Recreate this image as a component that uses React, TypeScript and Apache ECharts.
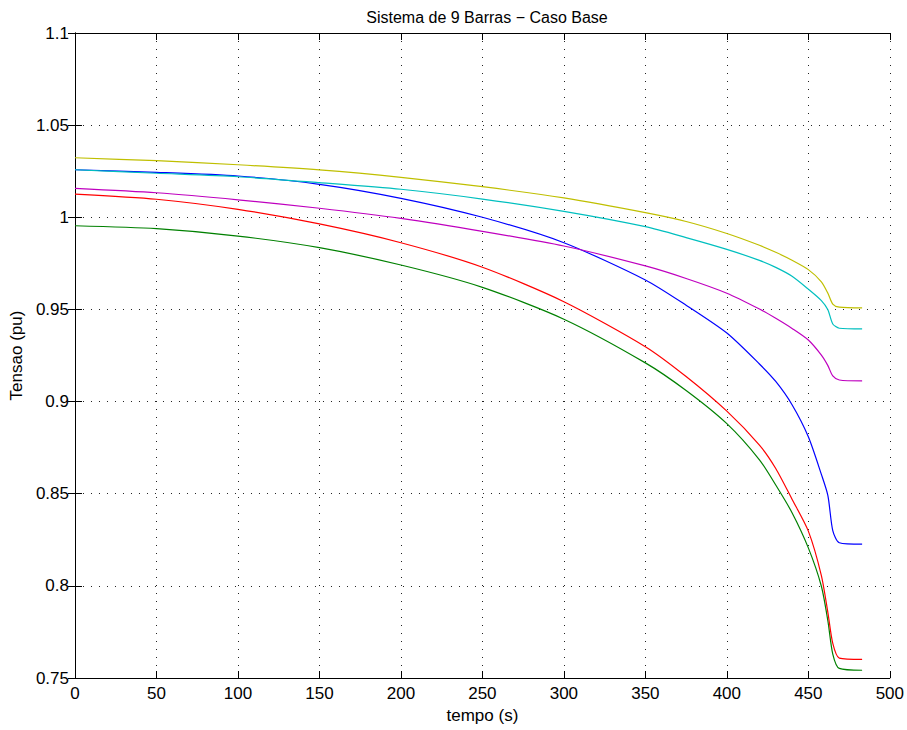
import React, { useEffect, useRef } from "react";
import * as echarts from "echarts";

const times = [0, 50, 100, 150, 200, 250, 300, 350, 375, 400, 420, 430, 440, 450, 458, 462, 465, 469, 483];
const busBlue = [1.0258, 1.0244, 1.0224, 1.0179, 1.0103, 1.0, 0.9862, 0.966, 0.9523, 0.9372, 0.9204, 0.9109, 0.8983, 0.8809, 0.8605, 0.849, 0.83, 0.8234, 0.8226];
const busGreen = [0.9954, 0.9938, 0.9898, 0.9835, 0.9741, 0.962, 0.9447, 0.921, 0.906, 0.888, 0.8684, 0.8547, 0.8397, 0.8206, 0.7998, 0.781, 0.763, 0.7552, 0.7542];
const busRed = [1.0126, 1.0098, 1.0043, 0.9964, 0.9862, 0.9729, 0.9542, 0.9298, 0.9136, 0.8948, 0.8764, 0.8637, 0.847, 0.8297, 0.8056, 0.7855, 0.7688, 0.7608, 0.7601];
const busCyan = [1.0258, 1.0239, 1.022, 1.0188, 1.0152, 1.0099, 1.0032, 0.9949, 0.989, 0.9826, 0.9766, 0.9728, 0.968, 0.961, 0.9548, 0.9498, 0.9421, 0.9398, 0.9394];
const busMagenta = [1.0157, 1.0133, 1.0095, 1.0049, 0.9994, 0.9924, 0.9844, 0.9736, 0.9668, 0.9588, 0.9502, 0.9452, 0.9397, 0.9334, 0.9252, 0.9195, 0.9139, 0.9117, 0.9112];
const busYellow = [1.0323, 1.0307, 1.0285, 1.0257, 1.0217, 1.0166, 1.0105, 1.0025, 0.9977, 0.9912, 0.9848, 0.981, 0.9767, 0.9716, 0.965, 0.9588, 0.9529, 0.9512, 0.9508];

const seriesList = [
  { name: "b", values: busBlue, color: "#0000ff" },
  { name: "g", values: busGreen, color: "#008000" },
  { name: "r", values: busRed, color: "#ff0000" },
  { name: "c", values: busCyan, color: "#00bfbf" },
  { name: "m", values: busMagenta, color: "#bf00bf" },
  { name: "y", values: busYellow, color: "#bfbf00" },
];

const FONT = "Liberation Sans, Arial, Helvetica, sans-serif";

export default function App() {
  const ref = useRef<HTMLDivElement>(null);
  useEffect(() => {
    if (!ref.current) return;
    const chart = echarts.init(ref.current, undefined, { renderer: "svg" });
    const gridLine = { show: true, lineStyle: { color: "#222", type: [1, 7] as any, width: 1 } };
    const tick = { show: true, inside: true, length: 7, lineStyle: { color: "#000" } };
    const axisLine = { show: true, lineStyle: { color: "#000", width: 1 } };
    chart.setOption({
      animation: false,
      backgroundColor: "#fff",
      title: {
        text: "Sistema de 9 Barras − Caso Base",
        left: 482,
        textAlign: "center",
        top: 4,
        textStyle: { fontFamily: FONT, fontSize: 16, fontWeight: "normal", color: "#000" },
      },
      grid: { left: 73, right: 16, top: 33, bottom: 52, show: false },
      xAxis: [
        {
          type: "value",
          min: 0,
          max: 500,
          interval: 50,
          name: "tempo (s)",
          nameLocation: "middle",
          nameGap: 26,
          nameTextStyle: { fontFamily: FONT, fontSize: 17, color: "#000" },
          axisLine,
          axisTick: tick,
          axisLabel: { fontFamily: FONT, fontSize: 17, color: "#000", margin: 7 },
          splitLine: gridLine,
        },
        {
          type: "value",
          position: "top",
          min: 0,
          max: 500,
          interval: 50,
          axisLine,
          axisTick: tick,
          axisLabel: { show: false },
          splitLine: { show: false },
        },
      ],
      yAxis: [
        {
          type: "value",
          min: 0.75,
          max: 1.1,
          interval: 0.05,
          name: "Tensao (pu)",
          nameLocation: "middle",
          nameGap: 47,
          nameTextStyle: { fontFamily: FONT, fontSize: 17, color: "#000" },
          axisLine,
          axisTick: tick,
          axisLabel: {
            fontFamily: FONT,
            fontSize: 17,
            color: "#000",
            margin: 6,
            formatter: (v: number) => parseFloat(v.toFixed(2)).toString(),
          },
          splitLine: gridLine,
        },
        {
          type: "value",
          position: "right",
          min: 0.75,
          max: 1.1,
          interval: 0.05,
          axisLine,
          axisTick: tick,
          axisLabel: { show: false },
          splitLine: { show: false },
        },
      ],
      series: seriesList.map((s) => ({
        name: s.name,
        type: "line",
        xAxisIndex: 0,
        yAxisIndex: 0,
        showSymbol: false,
        symbol: "none",
        smooth: 0.25,
        lineStyle: { color: s.color, width: 1.2 },
        data: times.map((t, i) => [t, s.values[i]]),
      })),
    });
    return () => chart.dispose();
  }, []);
  return (
    <div
      ref={ref}
      style={{ position: "fixed", left: 0, top: 0, width: 907, height: 730, background: "#fff" }}
    />
  );
}
